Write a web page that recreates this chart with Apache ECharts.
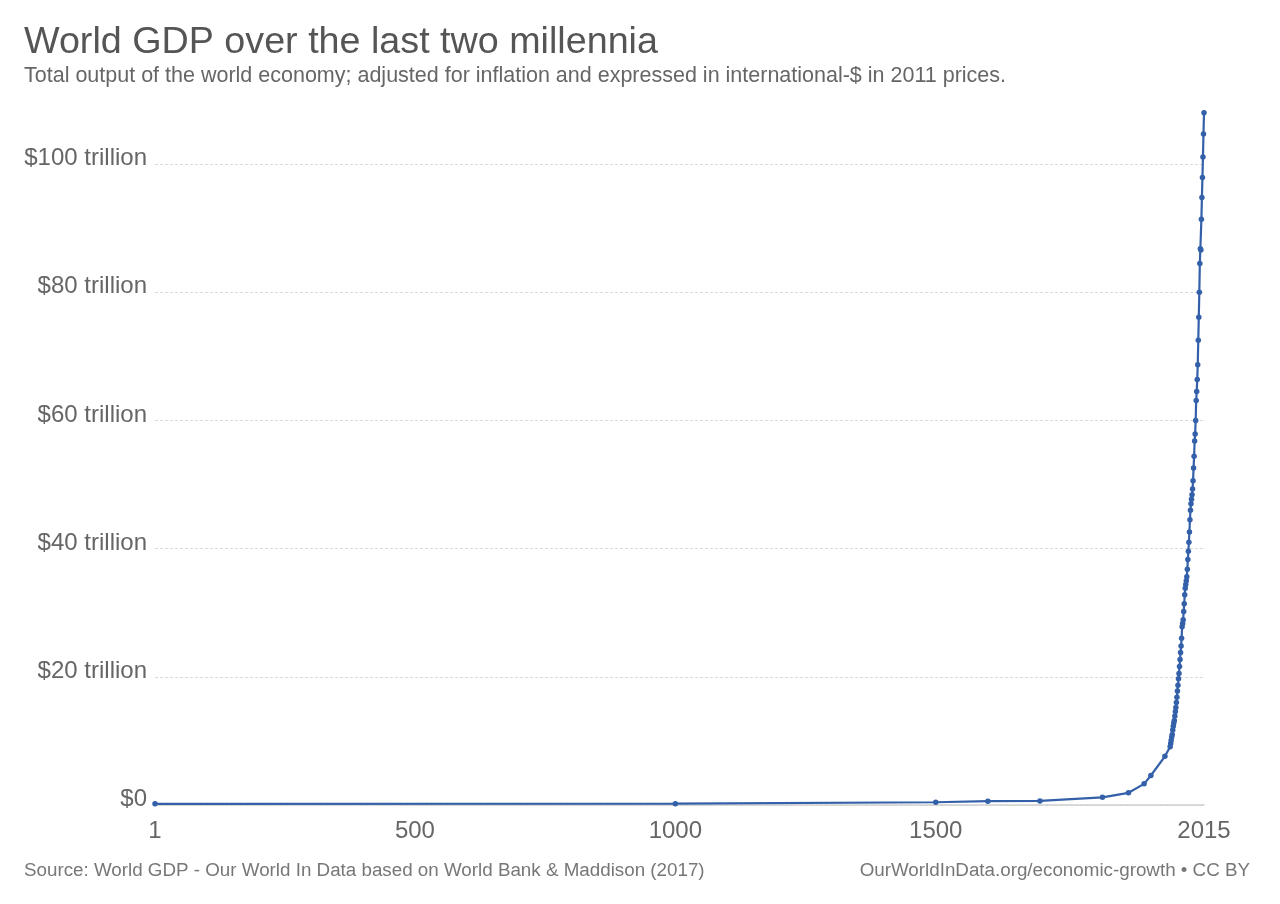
<!DOCTYPE html>
<html>
<head>
<meta charset="utf-8">
<script src="https://cdn.jsdelivr.net/npm/echarts@6/dist/echarts.min.js"></script>
<style>
html,body{margin:0;padding:0;background:#fff;}
#c{width:1280px;height:904px;}
</style>
</head>
<body>
<div id="c"></div>
<script>
// Years (x) and World GDP in trillion international-$ (2011 prices)
const years = [1, 1000, 1500, 1600, 1700, 1820, 1870, 1900, 1913, 1940,
  1950, 1951, 1952, 1953, 1954, 1955, 1956, 1957, 1958, 1959,
  1960, 1961, 1962, 1963, 1964, 1965, 1966, 1967, 1968, 1969,
  1970, 1971, 1972, 1973, 1974, 1975, 1976, 1977, 1978, 1979,
  1980, 1981, 1982, 1983, 1984, 1985, 1986, 1987, 1988, 1989,
  1990, 1991, 1992, 1993, 1994, 1995, 1996, 1997, 1998, 1999,
  2000, 2001, 2002, 2003, 2004, 2005, 2006, 2007, 2008, 2009,
  2010, 2011, 2012, 2013, 2014, 2015];
const gdpTrillion = [0.18, 0.21, 0.43, 0.6, 0.64, 1.2, 1.9, 3.3, 4.6, 7.6,
  9.1, 9.6, 10.1, 10.6, 11.0, 11.7, 12.3, 12.8, 13.2, 13.9,
  14.6, 15.2, 16.0, 16.8, 17.8, 18.7, 19.7, 20.5, 21.6, 22.7,
  23.8, 24.8, 26.0, 27.8, 28.3, 28.9, 30.2, 31.4, 32.8, 33.8,
  34.4, 35.0, 35.6, 36.8, 38.3, 39.6, 41.0, 42.6, 44.5, 46.0,
  47.0, 47.7, 48.4, 49.3, 50.6, 52.6, 54.4, 56.8, 57.9, 60.0,
  63.1, 64.5, 66.4, 68.7, 72.5, 76.1, 80.0, 84.5, 86.8, 86.6,
  91.4, 94.8, 97.9, 101.1, 104.7, 108.0];
const xTicks = [1, 500, 1000, 1500, 2015];
const yTicks = [0, 20, 40, 60, 80, 100];

const titleText = 'World GDP over the last two millennia';
const subtitleText = 'Total output of the world economy; adjusted for inflation and expressed in international-$ in 2011 prices.';
const sourceText = 'Source: World GDP - Our World In Data based on World Bank & Maddison (2017)';
const creditText = 'OurWorldInData.org/economic-growth • CC BY';

const FONT = '"Liberation Sans", Arial, Helvetica, sans-serif';
const chart = echarts.init(document.getElementById('c'), null, {renderer: 'canvas'});
chart.setOption({
  animation: false,
  backgroundColor: '#fff',
  textStyle: {fontFamily: FONT},
  title: [
    {text: titleText, left: 19, top: 19, textStyle: {fontFamily: FONT, fontSize: 37.7, fontWeight: 'normal', color: '#555'}},
    {text: subtitleText, left: 19, top: 60, textStyle: {fontFamily: FONT, fontSize: 21.5, fontWeight: 'normal', color: '#666'}},
    {text: sourceText, left: 19, top: 856, textStyle: {fontFamily: FONT, fontSize: 18.8, fontWeight: 'normal', color: '#777'}},
    {text: creditText, right: 25, top: 856, textStyle: {fontFamily: FONT, fontSize: 18.8, fontWeight: 'normal', color: '#777'}}
  ],
  grid: {left: 155, right: 76, top: 100, bottom: 99, containLabel: false},
  xAxis: {
    type: 'value', min: 1, max: 2015,
    axisLine: {show: true, lineStyle: {color: '#d0d0d0', width: 1.5}},
    axisTick: {show: false, customValues: xTicks},
    splitLine: {show: false},
    axisLabel: {customValues: xTicks, fontSize: 24, color: '#666', margin: 14, fontFamily: FONT,
      formatter: v => String(v)}
  },
  yAxis: {
    type: 'value', min: 0, max: 110,
    axisLine: {show: false},
    axisTick: {show: false, customValues: yTicks},
    splitLine: {show: true, lineStyle: {color: '#dadada', type: [3, 2], width: 1}},
    axisLabel: {
      customValues: yTicks, fontSize: 24, color: '#666', margin: 8, fontFamily: FONT,
      verticalAlign: 'bottom', lineHeight: 11,
      formatter: v => v === 0 ? '$0' : '$' + v + ' trillion'
    }
  },
  series: [{
    type: 'line',
    data: years.map((y, i) => [y, gdpTrillion[i]]),
    symbol: 'circle', symbolSize: 5.5, showSymbol: true,
    lineStyle: {color: '#3360a9', width: 2.2},
    itemStyle: {color: '#3360a9'}
  }]
});
</script>
</body>
</html>
